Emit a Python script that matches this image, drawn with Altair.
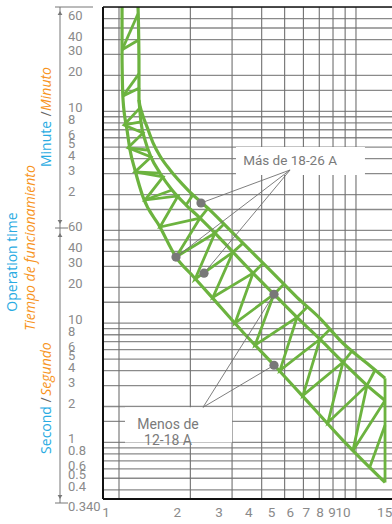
import altair as alt
import pandas as pd

# ---------------------------------------------------------------- scales
X_DOMAIN = [0.856, 14.19]      # multiples of rated current
Y_DOMAIN = [0.335, 4500]       # operation time in seconds
W, H = 289, 492

GREEN = "#6cb33f"
GRAY_TXT = "#8a8a8a"
BLUE = "#29abe2"
ORANGE = "#f7941d"
FONT = "Roboto"

# ---------------------------------------------------------------- grid values
x_grid = [1, 2, 3, 4, 5, 6, 7, 8, 9, 10]
y_grid_seconds = [0.4, 0.5, 0.6, 0.7, 0.8, 0.9, 1, 1.5, 2, 3, 4, 5, 6, 7, 8, 9,
                  10, 15, 20, 30, 40, 50, 60]
y_grid_minutes = [1.5, 2, 3, 4, 5, 6, 7, 8, 9, 10, 15, 20, 30, 40, 50, 60]

# ---------------------------------------------------------------- tick labels
x_labels = [1, 2, 3, 4, 5, 6, 7, 8, 9, 10, 15]
minute_labels = [60, 40, 30, 20, 10, 8, 6, 5, 4, 3, 2]
second_labels = [60, 40, 30, 20, 10, 8, 6, 5, 4, 3, 2, 1, 0.8, 0.6, 0.5, 0.4]

# ---------------------------------------------------------------- characteristic band
# points are (multiple of current, seconds)
outer_x = [1.203, 1.214, 1.214, 1.250, 1.313, 1.392, 1.489, 1.642, 1.955, 2.421,
           3.027, 3.676, 4.642, 5.638, 7.047, 8.813, 11.13, 13.26]
outer_t = [4500, 1622, 748, 582, 444, 326, 253, 193, 131, 89.0,
           57.1, 38.7, 24.4, 16.5, 11.0, 6.79, 4.61, 3.45]

middle_x = [1.214, 1.238, 1.287, 1.365, 1.489, 1.674, 1.918, 2.197, 2.541, 3.027,
            3.676, 4.509, 5.638, 7.047, 8.813, 11.13, 13.26]
middle_t = [748, 489, 345, 248, 182, 131, 98.1, 76.3, 57.1, 39.5,
            26.3, 17.5, 11.2, 7.34, 4.70, 3.01, 2.25]

inner_x = [1.030, 1.030, 1.040, 1.081, 1.113, 1.168, 1.263, 1.489, 1.740, 2.053,
           2.421, 3.336, 4.642, 6.397, 8.813, 13.26]
inner_t = [4500, 1622, 748, 419, 284, 193, 114.5, 64.1, 35.9, 24.8,
           17.2, 8.40, 4.19, 2.09, 1.04, 0.461]

# zigzag web between the inner and the middle curve
web_x = [1.226, 1.050, 1.263, 1.091, 1.365, 1.168, 1.534, 1.287, 1.774, 1.489,
         2.197, 1.740, 2.541, 2.093, 3.027, 2.492, 3.676, 3.087, 4.509, 3.749,
         5.638, 4.779, 7.047, 5.976, 8.813, 7.618, 11.13, 9.713, 13.26]
web_t = [641, 461, 395, 296, 248, 186, 169, 108, 117, 64.1,
         76.3, 35.9, 57.1, 23.4, 39.5, 16.5, 26.3, 10.0, 17.5, 6.53,
         11.2, 4.03, 7.34, 2.48, 4.70, 1.47, 3.01, 0.857, 2.25]

# single struts: x1, t1, x2, t2
struts = [
    # narrow upper section
    (1.030, 1968, 1.203, 3951),
    (1.030, 1968, 1.214, 2389),
    (1.040, 808, 1.214, 1237),
    (1.040, 808, 1.226, 944),
    # cross bars in the bend
    (1.050, 461, 1.238, 489),
    (1.091, 296, 1.313, 284),
    (1.168, 186, 1.489, 182),
    (1.287, 108, 1.674, 131),
    # ladder rungs between the middle and the outer curve
    (1.918, 98.1, 2.053, 120),
    (2.197, 76.3, 2.375, 92.6),
    (2.541, 57.1, 2.773, 67.9),
    (3.027, 39.5, 3.336, 47.0),
    (3.676, 26.3, 4.051, 31.9),
    (4.509, 17.5, 4.968, 21.3),
    (5.638, 11.2, 6.213, 13.6),
    (7.047, 7.34, 7.768, 8.91),
    (8.813, 4.70, 9.619, 5.82),
    (11.13, 3.01, 12.03, 4.03),
    # closing edge and last brace
    (13.26, 3.45, 13.26, 0.461),
    (11.46, 0.628, 13.26, 1.39),
]

# ---------------------------------------------------------------- markers and notes
dot_x = [2.218, 1.740, 2.284, 4.509, 4.509]
dot_t = [102, 35.9, 26.3, 17.5, 4.44]
dot_group = ["over", "over", "over", "under", "under"]
anchor = {"over": (5.27, 193), "under": (2.262, 1.97)}

# ---------------------------------------------------------------- helpers
xs = alt.Scale(type="log", domain=X_DOMAIN, nice=False, zero=False)
ys = alt.Scale(type="log", domain=Y_DOMAIN, nice=False, zero=False)
one = pd.DataFrame({"k": [0]})


def X(field):
    return alt.X(field, type="quantitative", scale=xs, axis=None)


def Y(field):
    return alt.Y(field, type="quantitative", scale=ys, axis=None)


# grid
vgrid = alt.Chart(pd.DataFrame({"x": x_grid})).mark_rule(
    color="#707070", strokeWidth=1.1
).encode(x=X("x"), y=alt.value(0), y2=alt.value(H))

hvals = y_grid_seconds + [m * 60 for m in y_grid_minutes]
hgrid = alt.Chart(pd.DataFrame({"y": hvals})).mark_rule(
    color="#8a8a8a", strokeWidth=1.3
).encode(y=Y("y"), x=alt.value(0), x2=alt.value(W))

# frame
frame = [
    alt.Chart(one).mark_rule(color="#111", strokeWidth=2).encode(
        x=alt.value(0), y=alt.value(0), y2=alt.value(H)),
    alt.Chart(one).mark_rule(color="#111", strokeWidth=1.5).encode(
        x=alt.value(0), x2=alt.value(W), y=alt.value(0)),
    alt.Chart(one).mark_rule(color="#111", strokeWidth=2).encode(
        x=alt.value(0), x2=alt.value(W), y=alt.value(H)),
]

# band curves
rows = []
for name, xx, tt in (("inner", inner_x, inner_t), ("middle", middle_x, middle_t),
                     ("outer", outer_x, outer_t)):
    for i, (a, b) in enumerate(zip(xx, tt)):
        rows.append({"curve": name, "i": i, "x": a, "y": b})
curves = alt.Chart(pd.DataFrame(rows)).mark_line(
    color=GREEN, strokeWidth=3.2, interpolate="monotone", clip=True
).encode(x=X("x"), y=Y("y"), detail="curve:N", order="i:Q")

web = alt.Chart(pd.DataFrame({"x": web_x, "y": web_t, "i": range(len(web_x))})).mark_line(
    color=GREEN, strokeWidth=2.8, clip=True
).encode(x=X("x"), y=Y("y"), order="i:Q")

strut_df = pd.DataFrame(struts, columns=["x", "y", "x2", "y2"])
strut_layer = alt.Chart(strut_df).mark_rule(color=GREEN, strokeWidth=2.8, clip=True).encode(
    x=X("x"), y=Y("y"), x2="x2:Q", y2="y2:Q")

# note boxes
box_df = pd.DataFrame({"x": [3.116, 1.06], "x2": [10.91, 3.0], "y": [301, 1.97], "y2": [175, 1.0]})
boxes = alt.Chart(box_df).mark_rect(color="white").encode(
    x=X("x"), x2="x2:Q", y=Y("y"), y2="y2:Q")

lead_rows = []
for a, b, g in zip(dot_x, dot_t, dot_group):
    ax, at = anchor[g]
    lead_rows.append({"x": ax, "y": at, "x2": a, "y2": b})
leaders = alt.Chart(pd.DataFrame(lead_rows)).mark_rule(color="#707070", strokeWidth=0.9).encode(
    x=X("x"), y=Y("y"), x2="x2:Q", y2="y2:Q")

dots = alt.Chart(pd.DataFrame({"x": dot_x, "y": dot_t})).mark_circle(
    color="#787878", opacity=1, size=85).encode(x=X("x"), y=Y("y"))

note_over = alt.Chart(pd.DataFrame({"x": [5.27], "y": [230], "t": ["Más de 18-26 A"]})).mark_text(
    font=FONT, fontSize=13.5, color="#7a7a7a", align="center", baseline="middle"
).encode(x=X("x"), y=Y("y"), text="t:N")

note_under = alt.Chart(pd.DataFrame({"x": [1.61], "y": [1.39], "t": ["Menos de\n12-18 A"]})).mark_text(
    font=FONT, fontSize=14, color="#7a7a7a", align="center", baseline="middle",
    lineBreak="\n", lineHeight=16
).encode(x=X("x"), y=Y("y"), text="t:N")

# tick labels
xlab = alt.Chart(pd.DataFrame({"x": x_labels, "t": [str(v) for v in x_labels]})).mark_text(
    font=FONT, fontSize=13.5, color=GRAY_TXT, align="center", baseline="middle", dx=-13
).encode(x=X("x"), y=alt.value(H + 14), text="t:N")

ylab_rows = [{"y": m * 60, "t": str(m)} for m in minute_labels]
ylab_rows += [{"y": s, "t": str(s)} for s in second_labels]
ylab = alt.Chart(pd.DataFrame(ylab_rows)).mark_text(
    font=FONT, fontSize=13, color=GRAY_TXT, align="left", baseline="middle", dy=-3
).encode(x=alt.value(-35), y=Y("y"), text="t:N")

ylab_end = alt.Chart(pd.DataFrame({"y": [Y_DOMAIN[0]], "t": ["0.340"]})).mark_text(
    font=FONT, fontSize=13, color=GRAY_TXT, align="left", baseline="top", dy=2
).encode(x=alt.value(-35), y=Y("y"), text="t:N")

# dimension lines beside the time labels
dim = [
    alt.Chart(one).mark_rule(color="#777", strokeWidth=1).encode(
        x=alt.value(-43), y=alt.value(0), y2=alt.value(496)),
    alt.Chart(one).mark_rule(color="#777", strokeWidth=1).encode(
        x=alt.value(-48), x2=alt.value(-10), y=alt.value(0)),
    alt.Chart(one).mark_rule(color="#777", strokeWidth=1).encode(
        x=alt.value(-48), x2=alt.value(-35), y=alt.value(221)),
    alt.Chart(one).mark_rule(color="#777", strokeWidth=1).encode(
        x=alt.value(-48), x2=alt.value(-35), y=alt.value(496)),
]
arrow_up = alt.Chart(pd.DataFrame({"yy": [6, 228]})).mark_point(
    shape="triangle-up", filled=True, color="#777", size=22, opacity=1
).encode(x=alt.value(-43), y=alt.Y("yy:Q", scale=None, axis=None))
arrow_dn = alt.Chart(pd.DataFrame({"yy": [215, 490]})).mark_point(
    shape="triangle-down", filled=True, color="#777", size=22, opacity=1
).encode(x=alt.value(-43), y=alt.Y("yy:Q", scale=None, axis=None))


# titles
def vtext(txt, x, y, color, italic=False):
    return alt.Chart(one).mark_text(
        text=txt, font="Open Sans", fontSize=14, color=color, angle=270,
        align="center", baseline="middle", fontStyle="italic" if italic else "normal"
    ).encode(x=alt.value(x), y=alt.value(y))


titles = [
    vtext("Operation time", -90, 255, BLUE),
    vtext("Tiempo de funcionamiento", -72, 241, ORANGE, True),
    vtext("Minute", -56, 137, BLUE),
    vtext("/", -56, 107, "#666"),
    vtext("Minuto", -56, 82, ORANGE, True),
    vtext("Second", -56, 423, BLUE),
    vtext("/", -56, 393, "#666"),
    vtext("Segundo", -56, 362, ORANGE, True),
]

chart = alt.layer(
    hgrid, vgrid, boxes, curves, web, strut_layer, *frame, leaders, dots, note_over,
    note_under, xlab, ylab, ylab_end, *dim, arrow_up, arrow_dn, *titles
).properties(
    width=W, height=H,
    autosize=alt.AutoSizeParams(type="none"),
    padding={"left": 103, "top": 7, "right": 0, "bottom": 25},
).configure_view(stroke=None).configure(background="white")

chart.save("out.html", embed_options={"renderer": "svg", "actions": False})
